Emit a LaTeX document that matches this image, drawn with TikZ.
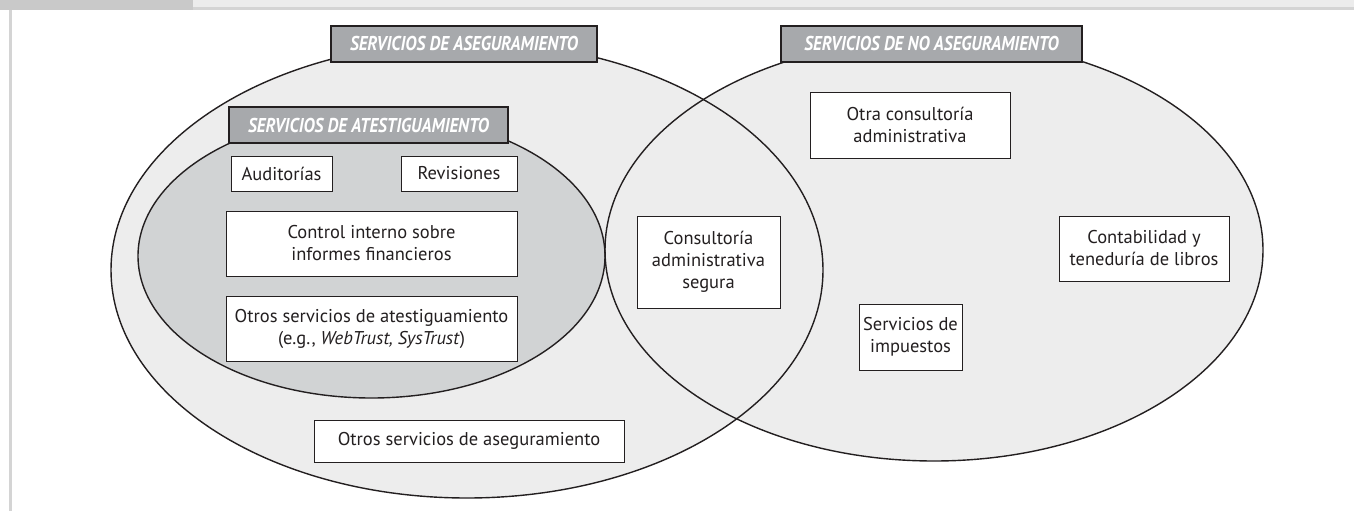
\documentclass[tikz,border=0pt]{standalone}
\usepackage{fontspec}
\setmainfont{PT Sans}
\newfontfamily\titlefont[FakeStretch=0.86]{PT Sans}
\usepackage{tikz}
\usepackage{xcolor}
\usetikzlibrary{shapes, positioning}

\definecolor{ink}{HTML}{231F20}
\definecolor{bardark}{HTML}{C9C9C9}
\definecolor{barlight}{HTML}{ECECEC}
\definecolor{barline}{HTML}{D4D4D4}
\definecolor{vennfill}{HTML}{EDEDED}
\definecolor{atestfill}{HTML}{D1D3D4}
\definecolor{labelgray}{HTML}{A7A9AC}

\tikzset{
  servbox/.style={draw=ink, line width=0.9pt, fill=white, text=ink, align=center, inner sep=0pt, font=\fontsize{18.5}{22}\selectfont},
  setlabel/.style={draw=ink, line width=1.1pt, fill=labelgray, text=white, inner sep=0pt, minimum height=36pt, font=\titlefont\bfseries\itshape\fontsize{20}{22}\selectfont},
  ring/.style={ellipse, draw=ink, line width=1.4pt, inner sep=0pt},
}

\begin{document}
\begin{tikzpicture}[x=1pt, y=-1pt]
        \useasboundingbox (0,0) rectangle (1354,511);
        \fill[bardark] (0,0) rectangle (193,10);
        \fill[barlight] (193,0) rectangle (1354,7);
        \fill[barline] (193,7) rectangle (1354,10);
        \fill[barline] (9.3,10) rectangle (12,511);

        \fill[vennfill] (467,270) ellipse [x radius=356, y radius=228];
        \fill[vennfill] (934,250) ellipse [x radius=329, y radius=211];
        \node[ring, fill=atestfill, minimum width=467pt, minimum height=284pt] (atest) at (371.5,256) {};
        \node[ring, minimum width=712pt, minimum height=456pt] (aseg) at (467,270) {};
        \node[ring, minimum width=658pt, minimum height=422pt] (noaseg) at (934,250) {};

        \node[setlabel, minimum width=266pt] (asegtitle) at (464,44) {SERVICIOS DE ASEGURAMIENTO};
        \node[setlabel, minimum width=301pt] (noasegtitle) at (931.5,44) {SERVICIOS DE NO ASEGURAMIENTO};
        \node[setlabel, minimum width=279pt] (atesttitle) at (368.5,125) {SERVICIOS DE ATESTIGUAMIENTO};

        \node[servbox, minimum width=101pt, minimum height=35pt] (audit) at (281.5,173.5) {Auditorías};
        \node[servbox, minimum width=116pt, minimum height=35pt] (revis) at (459,173.5) {Revisiones};
        \node[servbox, minimum width=291pt, minimum height=65pt] (control) at (371.5,243.5) {Control interno sobre\\informes financieros};
        \node[servbox, minimum width=291pt, minimum height=65pt] (otrosatest) at (371.5,328.5) {Otros servicios de atestiguamiento\\(e.g., \textit{WebTrust, SysTrust})};
        \node[servbox, minimum width=310pt, minimum height=42pt] (otrosaseg) at (469,441) {Otros servicios de aseguramiento};
        \node[servbox, minimum width=143pt, minimum height=92pt] (segura) at (708.5,262) {Consultoría\\administrativa\\segura};
        \node[servbox, minimum width=200pt, minimum height=66pt] (otracons) at (910,125) {Otra consultoría\\administrativa};
        \node[servbox, minimum width=103pt, minimum height=66pt] (impuestos) at (910.5,337) {Servicios de\\impuestos};
        \node[servbox, minimum width=170pt, minimum height=65pt] (contab) at (1144,248.5) {Contabilidad y\\teneduría de libros};
    \end{tikzpicture}
\end{document}
